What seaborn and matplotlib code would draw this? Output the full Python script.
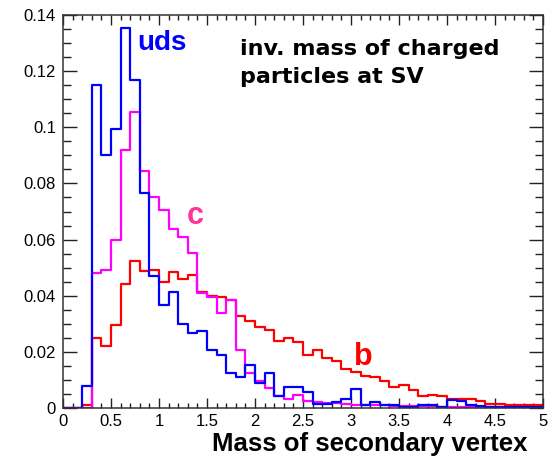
import numpy as np
import pandas as pd
import matplotlib.pyplot as plt
import seaborn as sns
from matplotlib.ticker import MultipleLocator

# bin edges 0..5 in steps of 0.1, fraction of entries per bin
edges = [round(0.1 * i, 1) for i in range(51)]

uds = [0, 0, 0.008, 0.115, 0.090, 0.0995, 0.1355, 0.117, 0.0767, 0.047,
       0.0367, 0.0415, 0.030, 0.0267, 0.0273, 0.0205, 0.019, 0.0124, 0.0112, 0.0152,
       0.009, 0.0124, 0.0043, 0.0076, 0.0076, 0.0057, 0.0014, 0.0014, 0.0021, 0.0031,
       0.0067, 0.001, 0.002, 0.0012, 0.001, 0.0005, 0.0005, 0.001, 0.001, 0.0005,
       0.0029, 0.0024, 0.0012, 0.0008, 0.0005, 0.0005, 0.0003, 0.0003, 0.0002, 0.0002]

charm = [0, 0, 0, 0.048, 0.049, 0.060, 0.092, 0.1055, 0.0845, 0.075,
         0.0707, 0.0638, 0.061, 0.0552, 0.041, 0.0395, 0.034, 0.0386, 0.0207, 0.0126,
         0.0095, 0.007, 0.0043, 0.0033, 0.0045, 0.0024, 0.002, 0.0018, 0.0017, 0.0014,
         0.0012, 0.0011, 0.001, 0.0009, 0.0008, 0.0007, 0.0007, 0.0006, 0.0006, 0.0005,
         0.0004, 0.0004, 0.0003, 0.0003, 0.0003, 0.0002, 0.0002, 0.0002, 0.0001, 0.0001]

bottom = [0, 0, 0.001, 0.0249, 0.022, 0.0296, 0.0443, 0.0523, 0.0487, 0.049,
          0.0448, 0.0483, 0.046, 0.0475, 0.0415, 0.040, 0.0395, 0.0383, 0.0329, 0.031,
          0.029, 0.0279, 0.0238, 0.0248, 0.0236, 0.0189, 0.0205, 0.0177, 0.0167, 0.0138,
          0.013, 0.0114, 0.011, 0.0095, 0.0076, 0.0081, 0.0064, 0.0043, 0.0048, 0.0043,
          0.0033, 0.0031, 0.0031, 0.0024, 0.0014, 0.0013, 0.0012, 0.0012, 0.0011, 0.0011]

centers = [e + 0.05 for e in edges[:-1]]
df = pd.concat([
    pd.DataFrame({'mass': centers, 'frac': uds, 'flavour': 'uds'}),
    pd.DataFrame({'mass': centers, 'frac': charm, 'flavour': 'c'}),
    pd.DataFrame({'mass': centers, 'frac': bottom, 'flavour': 'b'}),
], ignore_index=True)

sns.set_style('ticks')
plt.rcParams['font.family'] = ['Liberation Sans', 'DejaVu Sans']

fig = plt.figure(figsize=(5.51, 4.62), dpi=100)
ax = fig.add_axes([63 / 551, 1 - 408 / 462, 480 / 551, 393 / 462])

sns.histplot(data=df, x='mass', weights='frac', hue='flavour',
             hue_order=['uds', 'c', 'b'], bins=edges, element='step', fill=False,
             palette={'uds': '#0000ff', 'c': '#ff00ff', 'b': '#ff0000'},
             linewidth=1.6, legend=False, ax=ax)

ax.set_xlim(0, 5)
ax.set_ylim(0, 0.14)
ax.set_xticks(np.arange(0, 5.01, 0.5))
ax.set_xticklabels(['0', '0.5', '1', '1.5', '2', '2.5', '3', '3.5', '4', '4.5', '5'])
ax.set_yticks(np.arange(0, 0.141, 0.02))
ax.set_yticklabels(['0', '0.02', '0.04', '0.06', '0.08', '0.1', '0.12', '0.14'])
ax.xaxis.set_minor_locator(MultipleLocator(0.1))
ax.yaxis.set_minor_locator(MultipleLocator(0.005))
ax.tick_params(axis='both', which='both', direction='in', top=True, right=True,
               colors='#222222', labelcolor='black', labelsize=12, width=1)
ax.tick_params(axis='x', which='major', length=7, pad=4)
ax.tick_params(axis='x', which='minor', length=3.6)
ax.tick_params(axis='y', which='major', length=10, pad=5)
ax.tick_params(axis='y', which='minor', length=5.5)
for s in ax.spines.values():
    s.set_linewidth(1.1)
    s.set_color('#333333')

ax.set_ylabel('')
ax.set_xlabel('Mass of secondary vertex', fontsize=18.5, fontweight='bold', loc='right',
              color='black')
ax.xaxis.set_label_coords((528 - 63) / 480, -(432 - 408) / 393)

ax.text(0.77, 0.1275, 'uds', color='#0000ff', fontsize=20, fontweight='bold', va='baseline')
ax.text(1.29, 0.0654, 'c', color='#ff3399', fontsize=22, fontweight='bold', va='baseline')
ax.text(3.03, 0.0154, 'b', color='#ff0000', fontsize=22, fontweight='bold', va='baseline')
ax.text(0.369, 0.938, 'inv. mass of charged\nparticles at SV', transform=ax.transAxes,
        fontsize=16, fontweight='bold', family=['DejaVu Sans'], color='black',
        va='top', linespacing=1.45)

fig.savefig('out.png', dpi=100)
